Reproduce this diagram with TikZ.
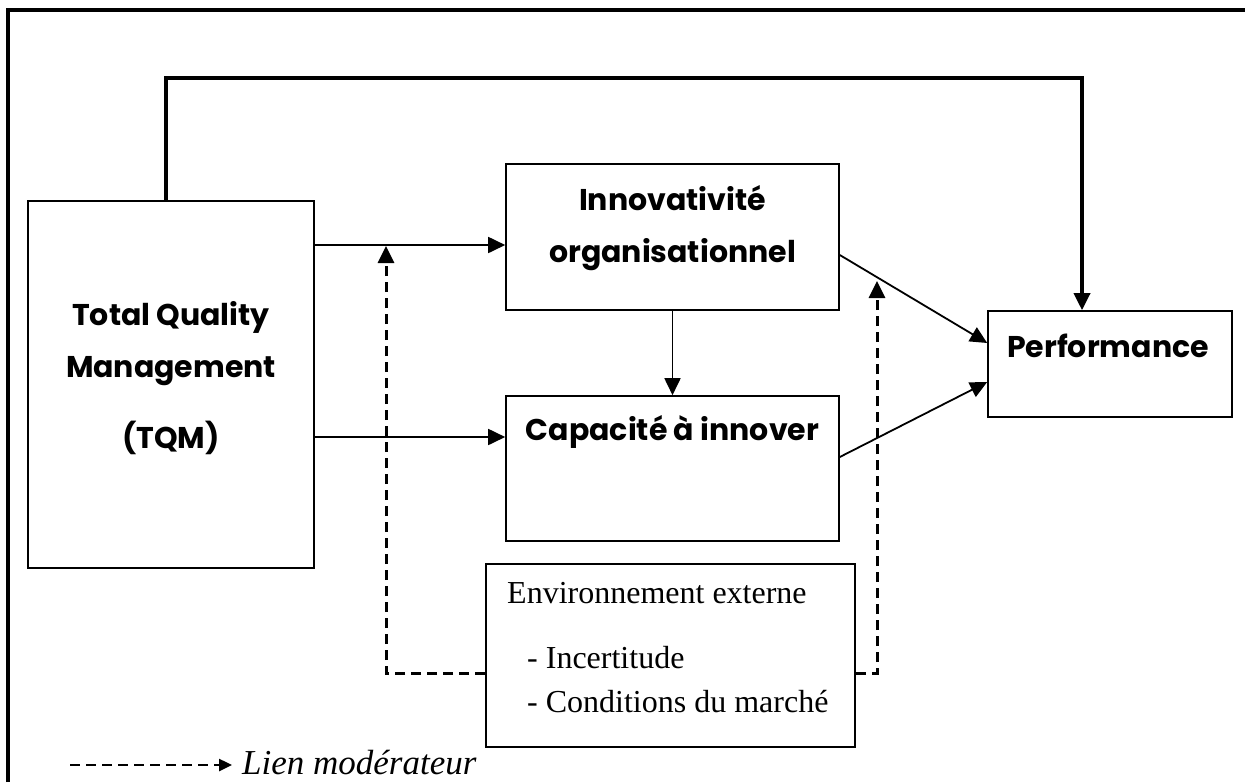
\documentclass[tikz,border=0pt]{standalone}
\usepackage{fontspec}
\setmainfont{Liberation Serif}
\newfontfamily\comicfont{Poppins}
\usetikzlibrary{arrows.meta,positioning}

\begin{document}
\begin{tikzpicture}[x=1pt,y=-1pt,
  boite/.style={draw,line width=1.6pt,inner sep=0pt},
  titre/.style={font=\comicfont\bfseries\fontsize{30}{36}\selectfont,inner sep=0pt,anchor=base},
  texte/.style={font=\fontsize{32}{38}\selectfont,inner sep=0pt,anchor=base west},
  lien/.style={line width=1.8pt,-{Triangle[length=17pt,width=16pt]}},
  moderateur/.style={line width=3pt,dash pattern=on 10pt off 6pt,-{Triangle[length=17pt,width=16pt]}}]
		\useasboundingbox (0,0) rectangle (1245,782);
		
		%cadre
		\draw[line width=3.5pt] (8,782) -- (8,10) -- (1245,10);
		
		%boites
		\node[boite,minimum width=286pt,minimum height=367pt] (tqm) at (171,384.5) {};
		\node[boite,minimum width=333pt,minimum height=146pt] (innov) at (672.5,237) {};
		\node[boite,minimum width=333pt,minimum height=145pt] (capa) at (672.5,468.5) {};
		\node[boite,minimum width=244pt,minimum height=106pt] (perf) at (1110,364) {};
		\node[boite,minimum width=369pt,minimum height=183pt] (env) at (670.5,655.5) {};
		
		%textes
		\node[titre] (tqmA) at (171,325) {Total Quality};
		\node[titre] (tqmB) at (171,377) {Management};
		\node[titre] (tqmC) at (171,448) {(TQM)};
		\node[titre] (innovA) at (672.5,210) {Innovativité};
		\node[titre] (innovB) at (672.5,262) {organisationnel};
		\node[titre] (capaA) at (672.5,440) {Capacité à innover};
		\node[titre] (perfA) at (1108,357) {Performance};
		\node[texte] (envA) at (507,603) {Environnement externe};
		\node[texte] (envB) at (527,668) {- Incertitude};
		\node[texte] (envC) at (527,712) {- Conditions du marché};
		
		%liens
		\coordinate (hautG) at (166,78);
		\coordinate (hautD) at (1082,78);
		\draw[lien,line width=3.5pt] (tqm.north -| hautG) -- (hautG) -- (hautD) -- (perf.north -| hautD);
		\draw[lien] (tqm.east |- 0,245) -- (innov.west |- 0,245);
		\draw[lien] (tqm.east |- 0,437) -- (capa.west |- 0,437);
		\draw[lien] (innov.south) -- (capa.north);
		\draw[lien] (innov.east |- 0,255) -- (perf.west |- 0,343);
		\draw[lien] (capa.east |- 0,457) -- (perf.west |- 0,382);
		
		%liens moderateurs
		\coordinate (modG) at (386,673);
		\coordinate (modD) at (877,673);
		\draw[moderateur] (env.west |- modG) -- (modG) -- (modG |- 0,246);
		\draw[moderateur] (env.east |- modD) -- (modD) -- (modD |- 0,281);
		
		%legende
		\coordinate (legA) at (70,765);
		\coordinate (legB) at (232,765);
		\draw[moderateur,line width=2.5pt,-{Triangle[length=13pt,width=12pt]}] (legA) -- (legB);
		\node[texte,font=\itshape\fontsize{35}{40}\selectfont] (legende) at (242,774) {Lien modérateur};
        
	\end{tikzpicture}
\end{document}
